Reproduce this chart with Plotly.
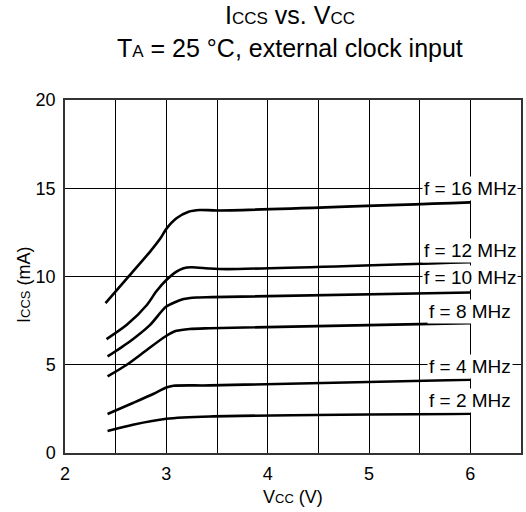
import plotly.graph_objects as go

# Data (Vcc in V, Iccs in mA)
vcc_16 = [2.40, 2.635, 2.84, 2.94, 3.00, 3.10, 3.22, 3.33, 3.50, 6.0]
icc_16 = [8.49, 10.05, 11.41, 12.15, 12.7, 13.3, 13.67, 13.77, 13.74, 14.2]

vcc_12 = [2.41, 2.61, 2.81, 2.90, 3.00, 3.10, 3.17, 3.25, 3.43, 3.60, 6.0]
icc_12 = [6.45, 7.26, 8.4, 9.15, 9.8, 10.28, 10.47, 10.52, 10.45, 10.42, 10.81]

vcc_10 = [2.42, 2.64, 2.84, 3.00, 3.17, 3.30, 3.45, 6.0]
icc_10 = [5.47, 6.32, 7.26, 8.3, 8.72, 8.81, 8.83, 9.09]

vcc_8 = [2.42, 2.61, 2.81, 2.99, 3.10, 3.23, 3.43, 6.0]
icc_8 = [4.34, 5.0, 5.85, 6.6, 6.92, 7.03, 7.07, 7.36]

vcc_4 = [2.42, 2.67, 2.87, 3.00, 3.07, 3.43, 6.0]
icc_4 = [2.21, 2.83, 3.34, 3.71, 3.81, 3.83, 4.15]

vcc_2 = [2.42, 2.67, 3.00, 3.43, 6.0]
icc_2 = [1.24, 1.6, 1.94, 2.07, 2.22]

labels = ["f = 16 MHz", "f = 12 MHz", "f = 10 MHz", "f = 8 MHz", "f = 4 MHz", "f = 2 MHz"]
label_x = [6, 6, 6, 6, 6, 6]
label_y = [15.0, 11.5, 9.95, 8.0, 4.9, 3.0]

x_ticks = [2, 3, 4, 5, 6]
y_ticks = [0, 5, 10, 15, 20]

series = [(vcc_16, icc_16), (vcc_12, icc_12), (vcc_10, icc_10),
          (vcc_8, icc_8), (vcc_4, icc_4), (vcc_2, icc_2)]

FONT = "Liberation Sans, Arial, sans-serif"

fig = go.Figure()
for (xs, ys), name in zip(series, labels):
    fig.add_trace(go.Scatter(
        x=xs, y=ys, mode="lines", name=name,
        line=dict(color="black", width=2.6, shape="spline", smoothing=0.7),
        showlegend=False, hoverinfo="skip"))

for t, xv, yv in zip(labels, label_x, label_y):
    fig.add_annotation(x=xv, y=yv, text=t, showarrow=False, xref="x", yref="y",
                       xanchor="center", yanchor="middle",
                       font=dict(family=FONT, size=19, color="black"),
                       bgcolor="white", borderpad=1)

def small(s, px):
    return f"<span style='font-size:{px}px'>{s}</span>"

# Title lines
fig.add_annotation(xref="paper", yref="paper", x=0.493, y=1.242, showarrow=False,
                   xanchor="center", yanchor="middle",
                   text=f"I{small('CCS', 17)} vs. V{small('CC', 17)}",
                   font=dict(family=FONT, size=25, color="black"))
fig.add_annotation(xref="paper", yref="paper", x=0.493, y=1.148, showarrow=False,
                   xanchor="center", yanchor="middle",
                   text=f"T{small('A', 17)} = 25 °C, external clock input",
                   font=dict(family=FONT, size=25, color="black"))
# Axis titles
fig.add_annotation(xref="paper", yref="paper", x=0.5, y=-0.125, showarrow=False,
                   xanchor="center", yanchor="middle",
                   text=f"V{small('CC', 13)} (V)",
                   font=dict(family=FONT, size=18, color="black"))
fig.add_annotation(xref="paper", yref="paper", x=-0.09, y=0.476, showarrow=False,
                   xanchor="center", yanchor="middle", textangle=-90,
                   text=f"I{small('CCS', 13)} (mA)",
                   font=dict(family=FONT, size=18, color="black"))

fig.update_layout(
    width=526, height=512,
    margin=dict(l=65, r=5, t=100, b=59, autoexpand=False),
    paper_bgcolor="white", plot_bgcolor="white",
    font=dict(family=FONT, color="black"),
    xaxis=dict(
        range=[2, 6.5], tickvals=x_ticks, ticktext=[str(v) for v in x_ticks],
        showgrid=True, gridcolor="black", gridwidth=1,
        minor=dict(dtick=0.5, tick0=2, showgrid=True, gridcolor="black", gridwidth=1),
        showline=True, linecolor="#333", linewidth=1.5, mirror=True,
        ticks="outside", ticklen=4, tickcolor="rgba(0,0,0,0)", zeroline=False,
        automargin=False,
        tickfont=dict(family=FONT, size=18, color="black")),
    yaxis=dict(
        range=[0, 20], tickvals=y_ticks, ticktext=[str(v) for v in y_ticks],
        showgrid=True, gridcolor="black", gridwidth=1,
        showline=True, linecolor="#333", linewidth=1.5, mirror=True,
        ticks="outside", ticklen=4, tickcolor="rgba(0,0,0,0)", zeroline=False,
        automargin=False,
        tickfont=dict(family=FONT, size=18, color="black")),
)

fig.write_html("out.html", config={"displayModeBar": False},
               post_script="document.body.style.margin='0';")
